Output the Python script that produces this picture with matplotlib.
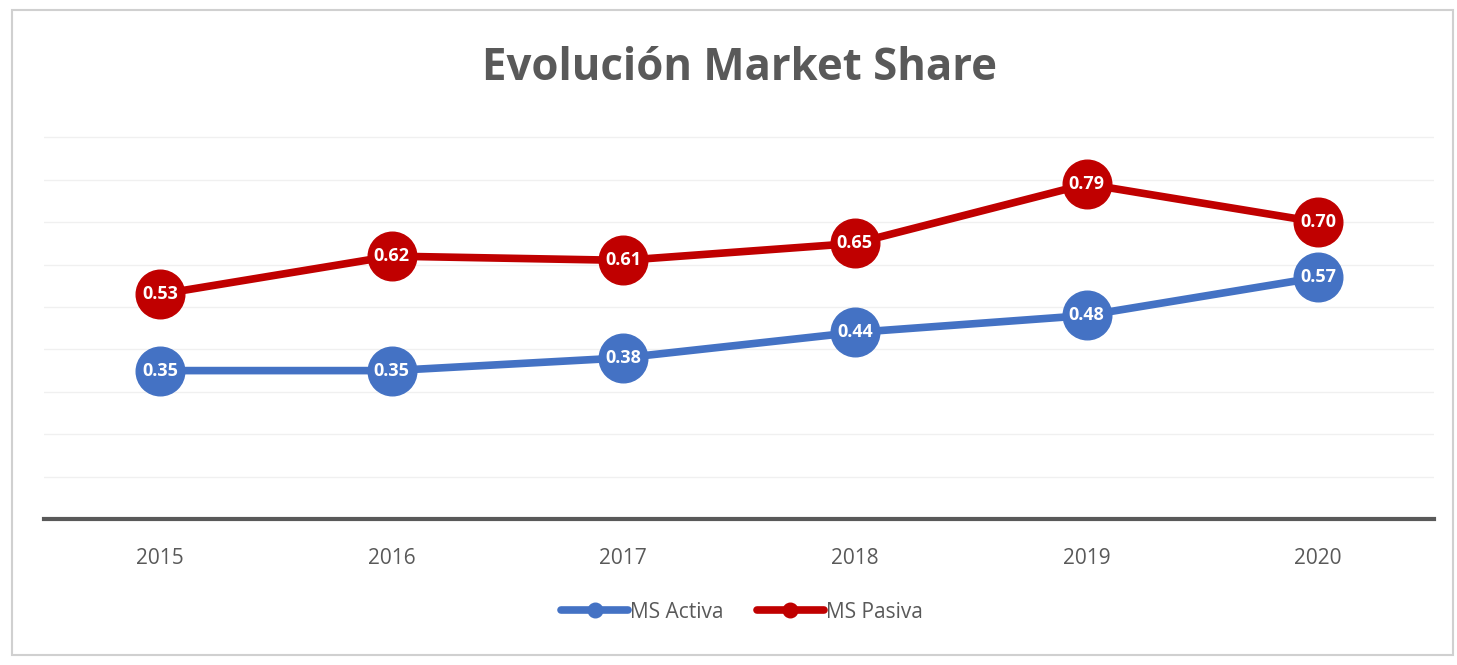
import matplotlib
matplotlib.use("Agg")
import matplotlib.pyplot as plt
from matplotlib.patches import Rectangle

YEARS = ["2015", "2016", "2017", "2018", "2019", "2020"]
MS_ACTIVA = [0.35, 0.35, 0.38, 0.44, 0.48, 0.57]
MS_PASIVA = [0.53, 0.62, 0.61, 0.65, 0.79, 0.70]

BLUE = "#4472C4"
RED = "#C00000"
GRAY = "#595959"

plt.rcParams["font.family"] = ["Open Sans", "DejaVu Sans"]

W, H = 1457, 665
fig = plt.figure(figsize=(W / 100, H / 100), dpi=100)
fig.patch.set_facecolor("white")

# marco exterior del gráfico
fig.patches.append(Rectangle((12 / W, 1 - 655 / H), (1453 - 12) / W, (655 - 10) / H,
                             transform=fig.transFigure, fill=False,
                             edgecolor="#d0d0d0", linewidth=1.5))

ax = fig.add_axes([44 / W, 1 - 519 / H, (1434 - 44) / W, (519 - 95) / H])
x = list(range(len(YEARS)))

for serie, color, label in [(MS_ACTIVA, BLUE, "MS Activa"), (MS_PASIVA, RED, "MS Pasiva")]:
    ax.plot(x, serie, color=color, linewidth=5.5, marker="o", markersize=35,
            solid_capstyle="round", label=label, zorder=3)
    for xi, v in zip(x, serie):
        ax.text(xi, v, f"{v:.2f}", ha="center", va="center", color="white",
                fontsize=13, fontweight="bold", zorder=4)

ax.set_xlim(-0.5, len(YEARS) - 0.5)
ax.set_ylim(0, 1.0)
ax.set_xticks(x)
ax.set_xticklabels(YEARS, fontsize=15, color=GRAY)
ax.set_yticks([i / 10 for i in range(1, 10)])
ax.tick_params(axis="y", left=False, labelleft=False)
ax.tick_params(axis="x", length=0, pad=21)
ax.grid(axis="y", color="#f0f0f0", linewidth=1)
ax.set_axisbelow(True)
for s in ["top", "left", "right"]:
    ax.spines[s].set_visible(False)
ax.spines["bottom"].set_color(GRAY)
ax.spines["bottom"].set_linewidth(3)

fig.text(740 / W, 1 - 68 / H, "Evolución Market Share", ha="center", va="center",
         fontsize=31.5, fontweight="bold", color=GRAY)

handles, labels = ax.get_legend_handles_labels()
leg = fig.legend(handles, labels, loc="center", bbox_to_anchor=(742 / W, 1 - 612 / H),
                 ncol=2, frameon=False, fontsize=15, handlelength=3.2,
                 handletextpad=0.1, columnspacing=1.6, markerscale=0.3)
for t in leg.get_texts():
    t.set_color(GRAY)

fig.savefig("out.png", dpi=100, facecolor="white")
